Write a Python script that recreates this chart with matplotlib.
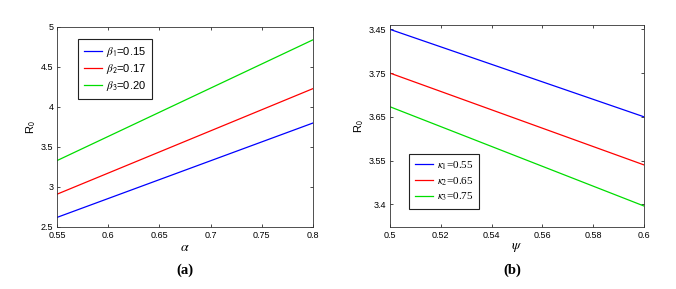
import matplotlib.pyplot as plt
import numpy as np

# panel (a): R0 against alpha for three beta values
alpha = [0.55, 0.80]
r0_beta1 = [2.62, 3.80]
r0_beta2 = [2.91, 4.23]
r0_beta3 = [3.33, 4.84]
beta_labels = [r'$\beta_{\mathsf{1}}$=0.15', r'$\beta_{\mathsf{2}}$=0.17', r'$\beta_{\mathsf{3}}$=0.20']

# panel (b): R0 against psi for three kappa values
# (y ticks are evenly spaced but labelled as in the source figure)
psi = [0.50, 0.60]
r0_kappa1 = [3.80, 3.60]
r0_kappa2 = [3.70, 3.49]
r0_kappa3 = [3.623, 3.396]
kappa_labels = [r'$\kappa_1$=0.55', r'$\kappa_2$=0.65', r'$\kappa_3$=0.75']
b_ytick_pos = [3.40, 3.50, 3.60, 3.70, 3.80]
b_ytick_lab = ['3.4', '3.55', '3.65', '3.75', '3.45']

colors = ['#0000ff', '#ff0000', '#00dd00']

plt.rcParams['mathtext.fontset'] = 'stix'
plt.rcParams['font.family'] = ['Liberation Sans', 'DejaVu Sans']

fig = plt.figure(figsize=(6.76, 2.89), dpi=100)
ax1 = fig.add_axes([57 / 676, 62 / 289, 256 / 676, 200 / 289])
ax2 = fig.add_axes([390 / 676, 62 / 289, 254 / 676, 202 / 289])

for ax in (ax1, ax2):
    ax.tick_params(direction='in', top=True, right=True, labelsize=6.5,
                   length=2.5, width=0.5)
    ax.tick_params(axis='x', pad=3)
    ax.tick_params(axis='y', pad=2.5)
    for s in ax.spines.values():
        s.set_linewidth(0.6)
        s.set_color('#333333')

# (a)
for ys, lab, c in zip([r0_beta1, r0_beta2, r0_beta3], beta_labels, colors):
    ax1.plot(alpha, ys, color=c, lw=0.9, label=lab)
ax1.set_xlim(0.55, 0.8)
ax1.set_ylim(2.5, 5)
ax1.set_xticks(np.arange(0.55, 0.801, 0.05))
ax1.set_xticklabels(['0.55', '0.6', '0.65', '0.7', '0.75', '0.8'])
ax1.set_yticks(np.arange(2.5, 5.01, 0.5))
ax1.set_yticklabels(['2.5', '3', '3.5', '4', '4.5', '5'])
ax1.set_xlabel(r'$\alpha$', fontsize=10, labelpad=0)
ax1.set_ylabel(r'R$_{\mathsf{0}}$', fontsize=8, labelpad=2)
leg1 = ax1.legend(loc='upper left', bbox_to_anchor=(0.082, 0.94), fontsize=8,
                  handlelength=1.7, handletextpad=0.3, borderpad=0.5,
                  borderaxespad=0, labelspacing=0.3, fancybox=False,
                  framealpha=1)
leg1.get_frame().set_edgecolor('#222222')
leg1.get_frame().set_linewidth(0.8)

# (b)
for ys, lab, c in zip([r0_kappa1, r0_kappa2, r0_kappa3], kappa_labels, colors):
    ax2.plot(psi, ys, color=c, lw=0.9, label=lab)
ax2.set_xlim(0.5, 0.6)
ax2.set_ylim(3.348, 3.81)
ax2.set_xticks(np.arange(0.5, 0.601, 0.02))
ax2.set_xticklabels(['0.5', '0.52', '0.54', '0.56', '0.58', '0.6'])
ax2.set_yticks(b_ytick_pos)
ax2.set_yticklabels(b_ytick_lab)
ax2.set_xlabel(r'$\psi$', fontsize=10, labelpad=0)
ax2.set_ylabel(r'R$_{\mathsf{0}}$', fontsize=8, labelpad=2)
leg2 = ax2.legend(loc='lower left', bbox_to_anchor=(0.075, 0.089),
                  prop={'family': 'Liberation Serif', 'size': 8},
                  handlelength=1.7, handletextpad=0.3, borderpad=0.5,
                  borderaxespad=0, labelspacing=0.3, fancybox=False,
                  framealpha=1)
leg2.get_frame().set_edgecolor('#222222')
leg2.get_frame().set_linewidth(0.8)

fig.text(185 / 676, 19 / 289, '(a)', fontsize=10.5, fontweight='bold',
         family='Liberation Serif', ha='center', va='center')
fig.text(512 / 676, 19 / 289, '(b)', fontsize=10.5, fontweight='bold',
         family='Liberation Serif', ha='center', va='center')

fig.savefig('out.png', dpi=100)
